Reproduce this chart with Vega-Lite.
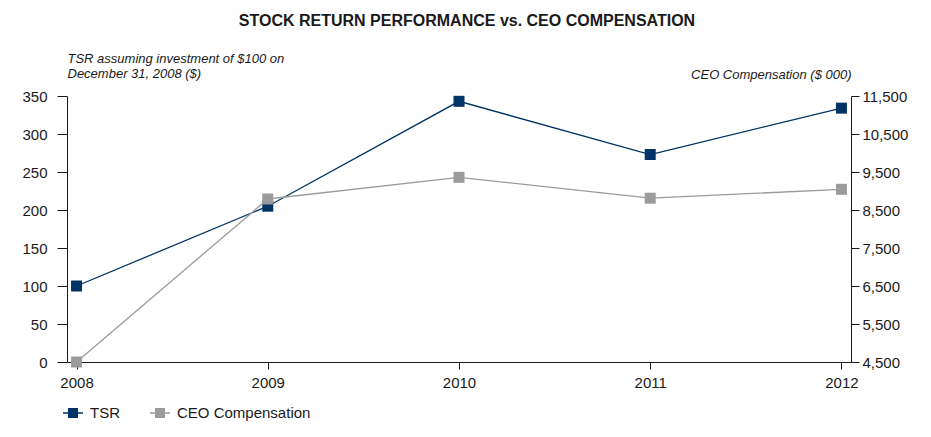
{
  "$schema": "https://vega.github.io/schema/vega-lite/v6.json",
  "width": 784,
  "height": 266,
  "autosize": {"type": "none"},
  "padding": {"left": 67, "top": 96, "right": 80, "bottom": 75},
  "background": "white",
  "config": {
    "view": {"stroke": null},
    "font": "Liberation Sans",
    "axis": {"grid": false, "domainColor": "#1a1a1a", "tickColor": "#1a1a1a", "labelColor": "#1a1a1a", "titleColor": "#1a1a1a", "labelFont": "Liberation Sans", "titleFont": "Liberation Sans", "labelFontSize": 15, "domainWidth": 1, "tickWidth": 1}
  },
  "title": {
    "text": "STOCK RETURN PERFORMANCE vs. CEO COMPENSATION",
    "font": "Liberation Sans",
    "fontSize": 16,
    "fontWeight": "bold",
    "color": "#1a1a1a",
    "frame": "group",
    "anchor": "middle",
    "baseline": "alphabetic",
    "offset": 10,
    "dx": 8
  },
  "data": {
    "values": [
      {"year": "2008", "series": "TSR", "value": 100},
      {"year": "2009", "series": "TSR", "value": 205},
      {"year": "2010", "series": "TSR", "value": 343},
      {"year": "2011", "series": "TSR", "value": 273},
      {"year": "2012", "series": "TSR", "value": 334},
      {"year": "2008", "series": "CEO Compensation", "value": 4500},
      {"year": "2009", "series": "CEO Compensation", "value": 8790},
      {"year": "2010", "series": "CEO Compensation", "value": 9360},
      {"year": "2011", "series": "CEO Compensation", "value": 8810},
      {"year": "2012", "series": "CEO Compensation", "value": 9045}
    ]
  },
  "encoding": {
    "x": {
      "field": "year",
      "type": "ordinal",
      "scale": {"type": "point", "padding": 0.05},
      "axis": {"title": null, "labelAngle": 0, "tickSize": 7, "labelPadding": 6, "domainWidth": 1}
    },
    "color": {
      "field": "series",
      "type": "nominal",
      "scale": {"domain": ["TSR", "CEO Compensation"], "range": ["#003366", "#9b9b9b"]},
      "legend": {
        "title": null,
        "orient": "none",
        "legendX": -4,
        "legendY": 307,
        "direction": "horizontal",
        "symbolType": "M-1,-0.065L1,-0.065L1,0.065L-1,0.065Z M-0.5,-0.5L0.5,-0.5L0.5,0.5L-0.5,0.5Z",
        "symbolSize": 400,
        "symbolStrokeWidth": 0,
        "labelFont": "Liberation Sans",
        "labelFontSize": 15,
        "labelColor": "#1a1a1a",
        "labelOffset": 7,
        "columnPadding": 30,
        "encode": {"symbols": {"update": {"fill": {"scale": "color", "field": "value"}, "fillOpacity": {"value": 1}, "strokeWidth": {"value": 0}}}}
      }
    }
  },
  "layer": [
    {
      "transform": [{"filter": "datum.series === 'TSR'"}],
      "mark": {"type": "line", "strokeWidth": 1.3, "point": {"shape": "square", "filled": true, "size": 121, "opacity": 1}},
      "encoding": {
        "y": {
          "field": "value",
          "type": "quantitative",
          "scale": {"domain": [0, 350], "nice": false, "zero": false},
          "axis": {
            "orient": "left",
            "values": [0, 50, 100, 150, 200, 250, 300, 350],
            "tickSize": 10,
            "labelPadding": 10,
            "title": ["TSR assuming investment of $100 on", "December 31, 2008 ($)"],
            "titleAngle": 0,
            "titleAlign": "left",
            "titleBaseline": "alphabetic",
            "titleX": 0,
            "titleY": -34,
            "titleFontSize": 13,
            "titleFontStyle": "italic",
            "titleFontWeight": "normal",
            "titleLineHeight": 15
          }
        }
      }
    },
    {
      "transform": [{"filter": "datum.series === 'CEO Compensation'"}],
      "mark": {"type": "line", "strokeWidth": 1.3, "point": {"shape": "square", "filled": true, "size": 121, "opacity": 1}},
      "encoding": {
        "y": {
          "field": "value",
          "type": "quantitative",
          "scale": {"domain": [4500, 11500], "nice": false, "zero": false},
          "axis": {
            "orient": "right",
            "values": [4500, 5500, 6500, 7500, 8500, 9500, 10500, 11500],
            "format": ",.0f",
            "tickSize": 8,
            "labelPadding": 3,
            "title": "CEO Compensation ($ 000)",
            "titleAngle": 0,
            "titleAlign": "right",
            "titleBaseline": "alphabetic",
            "titleX": 0,
            "titleY": -18,
            "titleFontSize": 13,
            "titleFontStyle": "italic",
            "titleFontWeight": "normal"
          }
        }
      }
    }
  ],
  "resolve": {"scale": {"y": "independent"}}
}
